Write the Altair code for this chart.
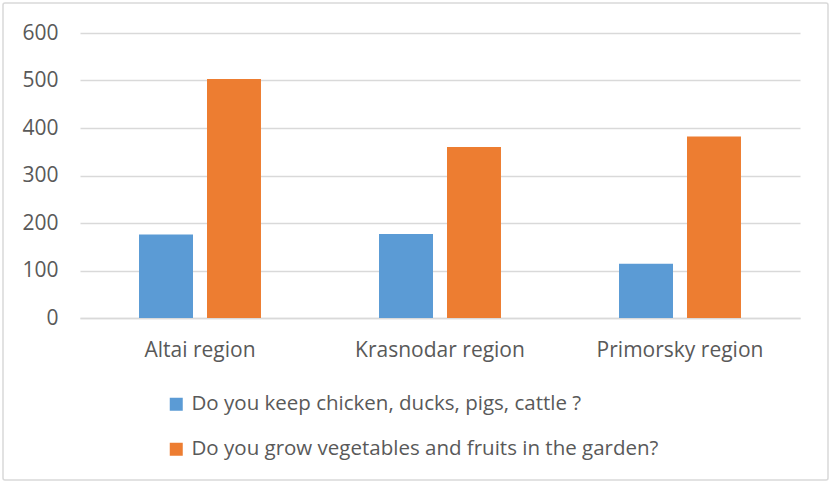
import altair as alt
import pandas as pd

regions = ["Altai region", "Krasnodar region", "Primorsky region"]
series = ["Do you keep chicken, ducks, pigs, cattle ?",
          "Do you grow vegetables and fruits in the garden?"]
livestock = [176, 177, 114]
garden = [503, 360, 382]
colors = ["#5b9bd5", "#ed7d31"]
y_ticks = [0, 100, 200, 300, 400, 500, 600]

rows = []
for i, r in enumerate(regions):
    rows.append({"region": r, "series": series[0], "value": livestock[i]})
    rows.append({"region": r, "series": series[1], "value": garden[i]})
df = pd.DataFrame(rows)

FONT = "Open Sans"
TXT = "#595959"

bars = alt.Chart(df).mark_bar().encode(
    x=alt.X("region:N", sort=regions, title=None,
            scale=alt.Scale(paddingInner=0, paddingOuter=0),
            axis=alt.Axis(labelAngle=0, ticks=False, domainColor="#d9d9d9",
                          domainWidth=1.5, labelPadding=21, labelFontSize=21,
                          labelColor=TXT, labelFont=FONT)),
    xOffset=alt.XOffset("series:N", sort=series,
                        scale=alt.Scale(paddingInner=0.206, paddingOuter=0.868)),
    y=alt.Y("value:Q", title=None,
            scale=alt.Scale(domain=[0, 600], nice=False),
            axis=alt.Axis(values=y_ticks, ticks=False, domain=False,
                          gridColor="#d9d9d9", gridWidth=1.5, labelPadding=22,
                          labelFontSize=21, labelColor=TXT, labelFont=FONT)),
    color=alt.Color("series:N", sort=series,
                    scale=alt.Scale(domain=series, range=colors),
                    legend=alt.Legend(title=None, orient="none", legendX=86, legendY=361,
                                      direction="vertical", symbolType="square",
                                      symbolSize=169, symbolStrokeWidth=0,
                                      rowPadding=24, labelFontSize=20.5, labelLimit=0,
                                      labelColor=TXT, labelFont=FONT, labelOffset=5)),
)

frame = alt.Chart(pd.DataFrame({"a": [0]})).mark_rect(
    fill=None, stroke="#d9d9d9", strokeWidth=1.5, cornerRadius=2
).encode(x=alt.value(-77), x2=alt.value(748), y=alt.value(-30), y2=alt.value(447))

chart = alt.layer(frame, bars).properties(
    width=720, height=285,
    padding={"left": 80, "top": 33, "right": 30, "bottom": 164},
    autosize=alt.AutoSizeParams(type="none"),
    background="white",
).configure_view(stroke=None)

chart.save("out.html", embed_options={"renderer": "svg", "actions": False})
